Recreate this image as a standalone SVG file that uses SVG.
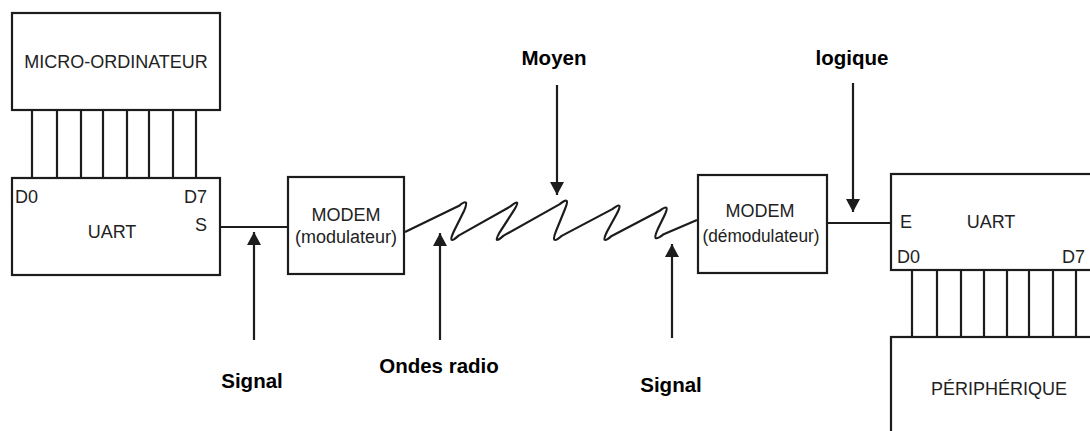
<svg xmlns="http://www.w3.org/2000/svg" width="1090" height="431" viewBox="0 0 1090 431">
<style>
.box{fill:#fff;stroke:#1c1c1c;stroke-width:2.2}
.bus{stroke:#1c1c1c;stroke-width:2.2;fill:none}
.ln{stroke:#1c1c1c;stroke-width:2.2;fill:none}
.t{font-family:"Liberation Sans",Arial,sans-serif;font-size:18px;fill:#222}
.lbl{font-family:"Liberation Sans",Arial,sans-serif;font-size:20.5px;font-weight:bold;fill:#000}
.arr{stroke:#1c1c1c;stroke-width:2.2;fill:none;marker-end:url(#ah)}
</style>
<defs>
<marker id="ah" markerUnits="userSpaceOnUse" markerWidth="16" markerHeight="16" viewBox="0 0 16 16" refX="14" refY="8" orient="auto">
<path d="M1,1 L14,8 L1,15 Z" fill="#1c1c1c"/>
</marker>
</defs>
<rect width="1090" height="431" fill="#fff"/>

<g id="micro-ordinateur">
<rect class="box" x="12" y="13" width="208" height="97"/>
<text class="t" x="116" y="68" text-anchor="middle" font-size="19">MICRO-ORDINATEUR</text>
</g>

<g id="bus1">
<path class="bus" d="M32,110V178M57,110V178M81,110V178M103,110V178M127,110V178M149,110V178M173,110V178M196,110V178"/>
</g>

<g id="uart1">
<rect class="box" x="12" y="178" width="208" height="97"/>
<text class="t" x="15" y="203">D0</text>
<text class="t" x="207" y="203" text-anchor="end">D7</text>
<text class="t" x="207" y="231" text-anchor="end">S</text>
<text class="t" x="112" y="238" text-anchor="middle">UART</text>
</g>

<g id="modem1">
<rect class="box" x="288" y="177" width="116" height="97"/>
<text class="t" x="346" y="221" text-anchor="middle">MODEM</text>
<text class="t" x="346" y="243" text-anchor="middle">(modulateur)</text>
</g>

<g id="modem2">
<rect class="box" x="698" y="175" width="129" height="98"/>
<text class="t" x="760" y="217" text-anchor="middle">MODEM</text>
<text class="t" x="761" y="242" text-anchor="middle" textLength="117" lengthAdjust="spacingAndGlyphs">(démodulateur)</text>
</g>

<g id="uart2">
<rect class="box" x="891" y="174" width="210" height="96"/>
<text class="t" x="900" y="228">E</text>
<text class="t" x="991" y="228" text-anchor="middle">UART</text>
<text class="t" x="897" y="263">D0</text>
<text class="t" x="1062" y="263">D7</text>
</g>

<g id="bus2">
<path class="bus" d="M912,270V337M937,270V337M961,270V337M984,270V337M1007,270V337M1029,270V337M1053,270V337M1076,270V337"/>
</g>

<g id="peripherique">
<rect class="box" x="891" y="337" width="210" height="110"/>
<text class="t" x="999" y="395" text-anchor="middle" font-size="19">PÉRIPHÉRIQUE</text>
</g>

<g id="connectors">
<path class="ln" d="M220,227H288"/>
<path class="ln" d="M827,223H891"/>
<path class="ln" stroke-linejoin="round" d="M405,232 L459.1,205.8 Q470,197 464.1,210.8 L453.9,231.2 Q447,246 458.6,235.6 L510.4,206.4 Q522,197 514,210.2 L500,231.8 Q492,246 503.6,235.6 L559.4,204.4 Q571,195 564.9,209.2 L556.1,230.8 Q550,246 561.7,235.9 L612.3,209.1 Q624,200 616.8,213.7 L607.2,231.3 Q600,246 611.7,235.9 L659.3,211.1 Q671,202 664.2,215.9 L657.8,229.1 Q651,244 663.1,234.6 L697,220"/>
<path class="arr" d="M254,340V232"/>
<path class="arr" d="M440,340V233"/>
<path class="arr" d="M672,338V244"/>
<path class="arr" d="M557,85V195"/>
<path class="arr" d="M853,83V212"/>
</g>

<g id="labels">
<text class="lbl" x="554" y="65" text-anchor="middle">Moyen</text>
<text class="lbl" x="852" y="65" text-anchor="middle">logique</text>
<text class="lbl" x="439" y="373" text-anchor="middle">Ondes radio</text>
<text class="lbl" x="252" y="388" text-anchor="middle">Signal</text>
<text class="lbl" x="671" y="392" text-anchor="middle">Signal</text>
</g>
</svg>
